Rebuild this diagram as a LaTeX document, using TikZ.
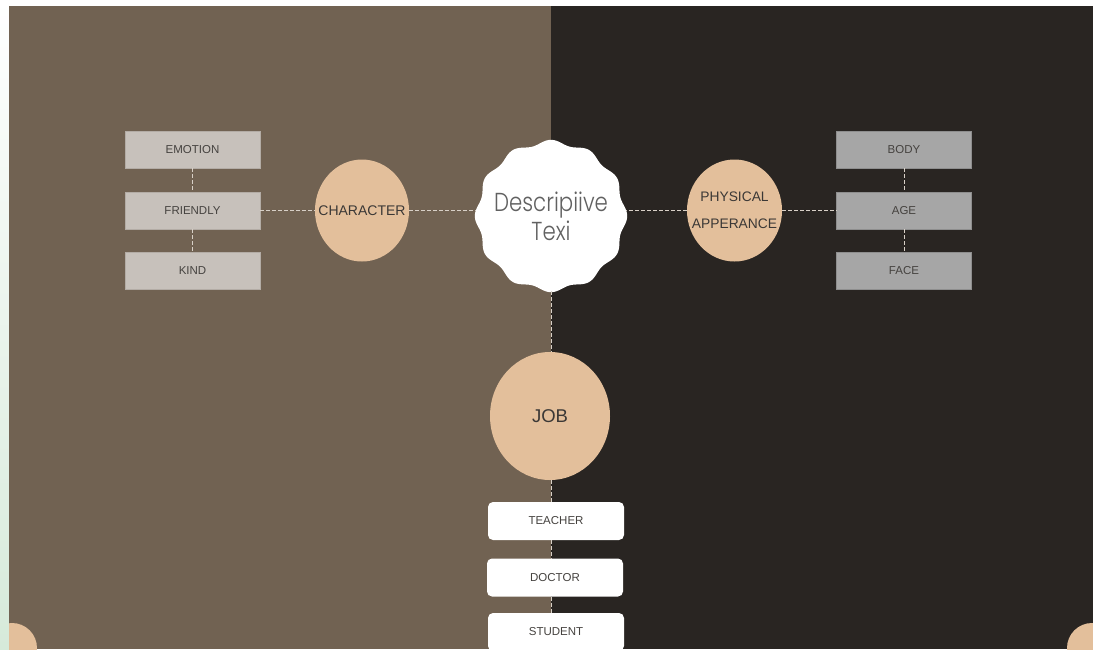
\documentclass[tikz,border=0pt]{standalone}
\usepackage{fontspec}
\setmainfont{Liberation Sans}
\newfontfamily\titlefont{Poppins}[UprightFont=* Light]
\usetikzlibrary{calc,shapes.geometric}
\definecolor{lbrown}{HTML}{716252}
\definecolor{dbrown}{HTML}{292522}
\definecolor{peach}{HTML}{E3BF9B}
\definecolor{lgrey}{HTML}{C7C1BB}
\definecolor{lgreyline}{HTML}{B3ACA5}
\definecolor{mgrey}{HTML}{A6A6A6}
\definecolor{mgreyline}{HTML}{8E8E8E}
\definecolor{labeltxt}{HTML}{45423F}
\definecolor{linkcol}{HTML}{D8D0C7}
\definecolor{mint}{HTML}{D6EADA}
\tikzset{
  leftbox/.style={rectangle, draw=lgreyline, fill=lgrey, minimum width=135, minimum height=37, inner sep=0, text=labeltxt, font=\fontsize{11.5}{13}\selectfont},
  rightbox/.style={leftbox, draw=mgreyline, fill=mgrey},
  jobbox/.style={leftbox, draw=none, fill=white, rounded corners=5, minimum width=136, minimum height=38},
  topic/.style={ellipse, fill=peach, inner sep=0, text=labeltxt!85!black, align=center},
  link/.style={draw=linkcol, line width=1pt, dash pattern=on 4pt off 2pt}
}
\begin{document}
\begin{tikzpicture}[x=1pt,y=-1pt]
			%%%%% START %%%%%
			\def\W{1093}
			\def\H{649}
			\def\mid{551}
			\def\row{210.5}
			\def\cx{551}
			\def\cy{216}
			
			\useasboundingbox (0,0) rectangle (\W,\H);
			\fill[white] (0,0) rectangle (\W,\H);
			\shade[top color=white, middle color=mint!60, bottom color=mint] (0,0) rectangle (9,\H);
			
			% two panels
			\fill[lbrown] (9,6) rectangle (\mid,\H);
			\fill[dbrown] (\mid,6) rectangle (\W,\H);
			\begin{scope}
				\clip (9,6) rectangle (\W,\H);
				\fill[peach] (12,648) circle (25);
				\fill[peach] (1092,648) circle (25);
			\end{scope}
			
			% wavy badge
			\fill[white] plot[domain=0:360, samples=240, smooth] ({\cx+(74+2.2*cos(12*\x))*cos(\x)}, {\cy+(74+2.2*cos(12*\x))*sin(\x)}) -- cycle;
			\node[circle, minimum size=150, inner sep=0, align=center, text=black!62, font=\titlefont\fontsize{26}{29}\selectfont] (desc) at (\cx,\cy) {\scalebox{0.82}[1]{Descripiive}\\\scalebox{0.82}[1]{Texi}};
			
			% left side
			\node[leftbox] (emotion) at (192.5,149.5) {EMOTION};
			\node[leftbox] (friendly) at (192.5,\row) {FRIENDLY};
			\node[leftbox] (kind) at (192.5,270.5) {KIND};
			\node[topic, minimum width=94, minimum height=102, font=\fontsize{14}{16}\selectfont] (character) at (362,\row) {\makebox[0pt]{CHARACTER}};
			
			% right side
			\node[topic, minimum width=95, minimum height=102, font=\fontsize{13.8}{27}\selectfont] (physical) at (734.5,\row) {\makebox[0pt]{PHYSICAL}\\\makebox[0pt]{APPERANCE}};
			\node[rightbox] (body) at (904,149.5) {BODY};
			\node[rightbox] (age) at (904,\row) {AGE};
			\node[rightbox] (face) at (904,270.5) {FACE};
			
			% bottom
			\node[topic, minimum width=120, minimum height=128, font=\fontsize{18.5}{20}\selectfont] (job) at (550,416) {\makebox[0pt]{JOB}};
			\node[jobbox] (teacher) at (556,521) {TEACHER};
			\node[jobbox] (doctor) at (555,577.5) {DOCTOR};
			\node[jobbox] (student) at (556,632) {STUDENT};
			
			% links
			\draw[link] (emotion) -- (friendly) -- (kind);
			\draw[link] (body) -- (age) -- (face);
			\draw[link] (friendly) -- (character);
			\draw[link] (character.east) -- (character.east -| desc.west);
			\draw[link] (physical.west) -- (physical.west -| desc.east);
			\draw[link] (physical) -- (age);
			\draw[link] (desc.south -| \mid,0) -- (job.north -| \mid,0);
			\draw[link] (job.south -| \mid,0) -- (teacher.north -| \mid,0);
			\draw[link] (teacher.south -| \mid,0) -- (doctor.north -| \mid,0);
			\draw[link] (doctor.south -| \mid,0) -- (student.north -| \mid,0);
			%%%%% END %%%%%
\end{tikzpicture}
\end{document}
